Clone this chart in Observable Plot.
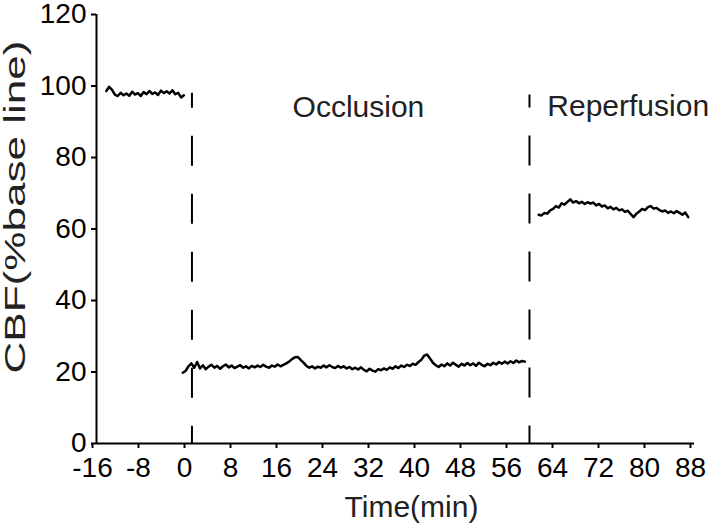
<!DOCTYPE html>
<html>
<head>
<meta charset="utf-8">
<script src="https://cdn.jsdelivr.net/npm/d3@7"></script>
<script src="https://cdn.jsdelivr.net/npm/@observablehq/plot@0.6"></script>
<style>
  html, body { margin: 0; padding: 0; background: #fff; }
</style>
</head>
<body>
<div id="chart"></div>
<script>
// ---- data ----
const xTicks = [-16, -8, 0, 8, 16, 24, 32, 40, 48, 56, 64, 72, 80, 88];
const yTicks = [0, 20, 40, 60, 80, 100, 120];
const xLabel = "Time(min)";
const yLabel = "CBF(%base line)";

// Baseline segment (sampled every 0.5 min from -14.3)
const baseStart = -14.3, baseStep = 0.5;
const baseValues = [98.6, 99.8, 98.9, 97.6, 97.2, 98.1, 97.4, 97.9, 97.3, 98.4,
  97.6, 98.0, 97.2, 98.3, 97.7, 98.6, 97.8, 98.2, 97.5, 98.7,
  98.0, 98.5, 97.9, 98.8, 97.7, 98.1, 96.8, 97.4];

// Occlusion segment (every 0.5 min from -1.0)
const occStart = -1.0, occStep = 0.5;
const occValues = [
  19.8, 20.3, 21.6, 22.4, 21.2, 22.8, 21.0, 21.9, 20.8, 21.5,
  22.0, 21.2, 21.7, 20.9, 21.6, 22.1, 21.3, 21.8, 21.1, 21.5,
  21.9, 21.2, 21.6, 21.0, 21.7, 21.3, 21.8, 21.4, 22.0, 21.5,
  21.2, 21.8, 21.5, 22.1, 21.6, 22.0, 22.4, 22.9, 23.6, 24.1,
  24.2, 23.4, 22.6, 21.7, 21.2, 21.6, 21.0, 21.5, 21.2, 21.8,
  21.3, 21.9, 21.4, 21.1, 21.7, 21.2, 21.6, 21.0, 21.4, 20.8,
  21.2, 20.7, 21.3, 20.6, 20.2, 20.9, 20.4, 20.1, 20.8, 20.5,
  21.0, 20.6, 21.3, 20.9, 21.6, 21.1, 21.8, 21.4, 22.0, 21.7,
  22.3, 22.0, 22.8, 23.4, 24.6, 24.9, 23.8, 22.6, 21.9, 21.4,
  22.1, 21.6, 22.4, 21.8, 22.6, 22.0, 21.5, 22.3, 21.8, 22.5,
  21.9, 22.4, 21.7, 22.6, 22.0, 21.6, 22.3, 21.9, 22.6, 22.1,
  22.8, 22.3, 22.9, 22.4, 23.0, 22.5, 23.2, 22.7, 23.1, 22.9];

// Reperfusion segment (every 0.5 min from 60.9)
const repStart = 60.9, repStep = 0.5;
const repValues = [
  64.0, 63.8, 64.5, 64.3, 65.2, 65.6, 66.4, 66.0, 67.2, 66.8,
  67.6, 68.3, 67.4, 67.8, 67.2, 67.6, 67.0, 67.5, 67.1, 67.4,
  66.6, 67.0, 66.3, 66.6, 65.8, 66.2, 65.5, 65.9, 65.2, 65.5,
  64.8, 65.1, 64.2, 63.3, 64.3, 64.9, 65.6, 65.3, 66.1, 66.4,
  65.7, 65.9, 65.3, 64.9, 65.2, 64.5, 64.9, 64.4, 65.0, 64.5,
  64.0, 64.6, 63.3];

// Event markers (dashed vertical lines)
const eventTimes = [0.6, 59.3];
const eventTops = [98, 97.5];
const eventOffsets = [15, 17];

// Phase labels
const phaseNames = ["Occlusion", "Reperfusion"];
const phaseX = [18.1, 62.4];
const phaseY = [94.0, 94.4];

// ---- build tables ----
const seg = (start, step, vals) => vals.map((v, i) => ({t: start + i * step, v}));
const baseData = seg(baseStart, baseStep, baseValues);
const occData = seg(occStart, occStep, occValues);
const repData = seg(repStart, repStep, repValues);
const events = eventTimes.map((t, i) => ({t, top: eventTops[i], off: eventOffsets[i]}));
const phases = phaseNames.map((name, i) => ({name, x: phaseX[i], y: phaseY[i]}));

const font = "'Liberation Sans', Arial, Helvetica, sans-serif";

const chart = Plot.plot({
  width: 712,
  height: 529,
  marginLeft: 96,
  marginRight: 18,
  marginTop: 14,
  marginBottom: 86,
  style: {fontFamily: font, fontSize: "28px", color: "#000", background: "#fff"},
  x: {domain: [-16, 88], ticks: xTicks, label: null},
  y: {domain: [0, 120], ticks: yTicks, label: null},
  marks: [
    Plot.axisX({ticks: xTicks, tickFormat: d => String(d), tickSize: 5, tickPadding: 9, strokeWidth: 2, fontSize: 28, dx: -4, label: null}),
    Plot.axisY({ticks: yTicks, tickFormat: d => String(d), tickSize: 5, tickPadding: 5, strokeWidth: 2, fontSize: 28, label: null}),
    Plot.ruleX([-16], {y1: 0, y2: 120, stroke: "#000", strokeWidth: 2}),
    Plot.ruleY([0], {x1: -16, x2: 88, stroke: "#000", strokeWidth: 2}),
    ...events.map(e => Plot.ruleX([e], {x: "t", y1: "top", y2: 0, stroke: "#000", strokeWidth: 2,
      strokeDasharray: "30,28", strokeDashoffset: e.off})),
    Plot.line(baseData, {x: "t", y: "v", stroke: "#000", strokeWidth: 2.5}),
    Plot.line(occData, {x: "t", y: "v", stroke: "#000", strokeWidth: 2.5}),
    Plot.line(repData, {x: "t", y: "v", stroke: "#000", strokeWidth: 2.5}),
    Plot.text(phases, {x: "x", y: "y", text: "name", textAnchor: "start", fontSize: 30, fill: "#222"}),
    Plot.text([xLabel], {frameAnchor: "bottom", lineAnchor: "middle", dx: 16, dy: 64, fontSize: 30, fill: "#222", text: d => d}),
    Plot.text([yLabel], {frameAnchor: "left", lineAnchor: "middle", textAnchor: "start", dx: -81, dy: 144.5, rotate: -90, fontSize: 29, fill: "#222", text: d => d, className: "ylab"})
  ]
});
document.getElementById("chart").appendChild(chart);
// stretch the y label along its length as in the reference
const yl = chart.querySelector(".ylab text");
if (yl) { yl.setAttribute("textLength", 333); yl.setAttribute("lengthAdjust", "spacingAndGlyphs"); }
</script>
</body>
</html>
